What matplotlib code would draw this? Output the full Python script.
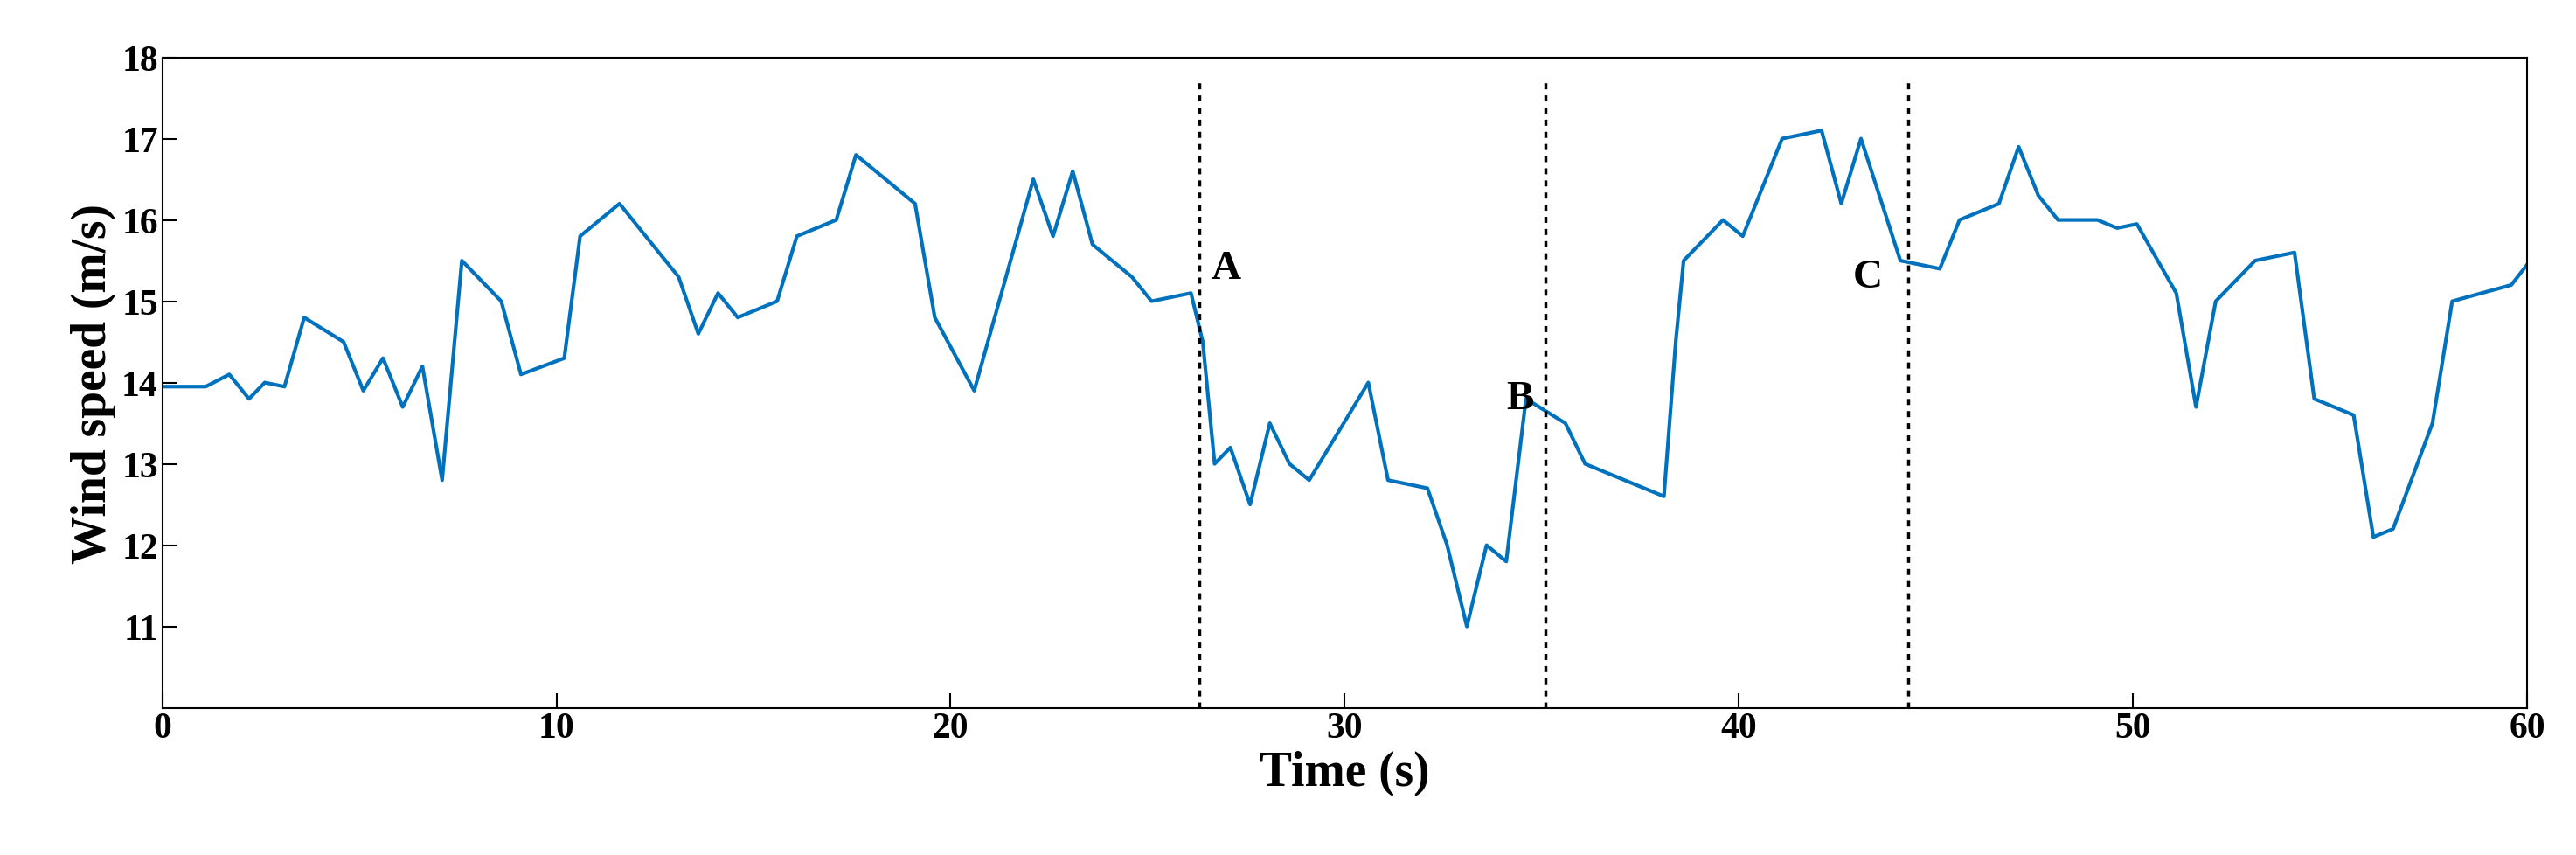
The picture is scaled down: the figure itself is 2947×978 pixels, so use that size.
import matplotlib
matplotlib.use("Agg")
import matplotlib.pyplot as plt

time_s = [0,1.1,1.7,2.2,2.6,3.1,3.6,4.6,5.1,5.6,6.1,6.6,7.1,7.6,8.6,9.1,10.2,10.6,11.6,13.1,13.6,14.1,14.6,15.6,16.1,17.1,17.6,19.1,19.6,20.6,22.1,22.6,23.1,23.6,24.6,25.1,26.1,26.4,26.7,27.1,27.6,28.1,28.6,29.1,30.6,31.1,32.1,32.6,33.1,33.6,34.1,34.6,35.6,36.1,38.1,38.4,38.6,39.6,40.1,41.1,42.1,42.6,43.1,44.1,45.1,45.6,46.6,47.1,47.6,48.1,49.1,49.6,50.1,51.1,51.6,52.1,53.1,54.1,54.6,55.6,56.1,56.6,57.6,58.1,59.6,60]
wind = [13.95,13.95,14.1,13.8,14.0,13.95,14.8,14.5,13.9,14.3,13.7,14.2,12.8,15.5,15.0,14.1,14.3,15.8,16.2,15.3,14.6,15.1,14.8,15.0,15.8,16.0,16.8,16.2,14.8,13.9,16.5,15.8,16.6,15.7,15.3,15.0,15.1,14.5,13.0,13.2,12.5,13.5,13.0,12.8,14.0,12.8,12.7,12.0,11.0,12.0,11.8,13.8,13.5,13.0,12.6,14.5,15.5,16.0,15.8,17.0,17.1,16.2,17.0,15.5,15.4,16.0,16.2,16.9,16.3,16.0,16.0,15.9,15.95,15.1,13.7,15.0,15.5,15.6,13.8,13.6,12.1,12.2,13.5,15.0,15.2,15.45]
marker_x = [26.3, 35.1, 44.3]
marker_labels = ["A", "B", "C"]
label_pos = [(26.6, 15.4), (34.1, 13.8), (42.9, 15.3)]

plt.rcParams['font.family'] = ['Liberation Serif', 'DejaVu Serif']
fig = plt.figure(figsize=(29.47, 9.79), dpi=100)
ax = fig.add_axes([0.063, 0.172, 0.918, 0.76])
ax.plot(time_s, wind, color='#0072BD', lw=3)
for x in marker_x:
    ax.plot([x, x], [10, 17.7], color='black', ls=(0, (2, 2)), lw=2.5)
for lab, (x, y) in zip(marker_labels, label_pos):
    ax.text(x, y, lab, fontsize=34, fontweight='bold', va='center')
ax.set_xlim(0, 60)
ax.set_ylim(10, 18)
ax.set_yticks(range(11, 19))
ax.set_xticks(range(0, 61, 10))
ax.tick_params(labelsize=30, length=12, width=1.5, direction='in')
for lbl in ax.get_xticklabels() + ax.get_yticklabels():
    lbl.set_fontweight('bold')
for s in ax.spines.values():
    s.set_linewidth(1.5)
ax.set_xlabel('Time (s)', fontsize=40, fontweight='bold', labelpad=4)
ax.set_ylabel('Wind speed (m/s)', fontsize=40, fontweight='bold')
fig.savefig('out.png', dpi=100)
